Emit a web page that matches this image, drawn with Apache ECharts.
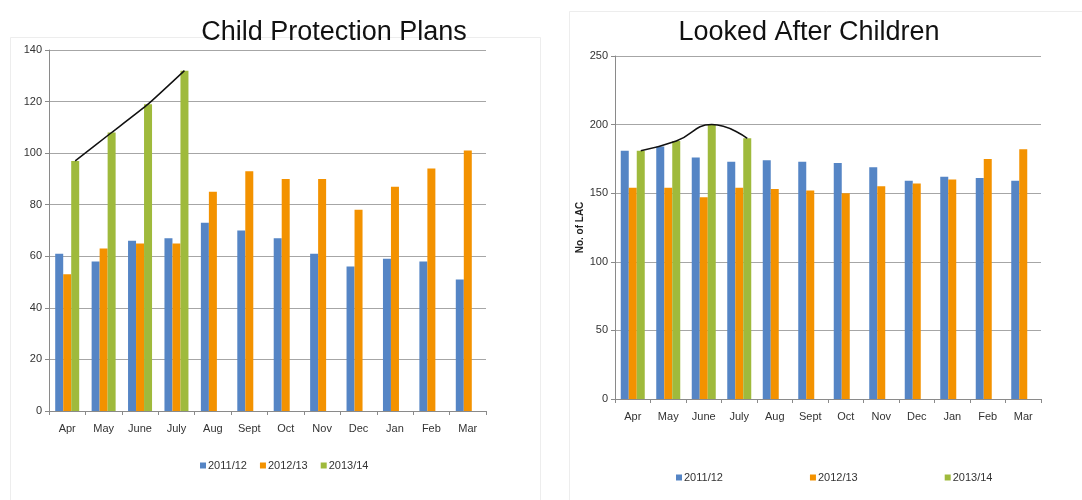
<!DOCTYPE html>
<html><head><meta charset="utf-8">
<script src="https://cdn.jsdelivr.net/npm/echarts@6/dist/echarts.min.js"></script>
<style>html,body{margin:0;padding:0;background:#fff}#c{width:1082px;height:500px}</style>
</head><body><div id="c"></div>
<script>
const months = ['Apr','May','June','July','Aug','Sept','Oct','Nov','Dec','Jan','Feb','Mar'];
const seriesNames = ['2011/12','2012/13','2013/14'];
// Child Protection Plans
const cpp2011 = [61,58,66,67,73,70,67,61,56,59,58,51];
const cpp2012 = [53,63,65,65,85,93,90,90,78,87,94,101];
const cpp2013 = [97,108,119,132,null,null,null,null,null,null,null,null];
// Looked After Children
const lac2011 = [181,184,176,173,174,173,172,169,159,162,161,159];
const lac2012 = [154,154,147,154,153,152,150,155,157,160,175,182];
const lac2013 = [181,188,200,190,null,null,null,null,null,null,null,null];
const cppTicks = [0,20,40,60,80,100,120,140];
const lacTicks = [0,50,100,150,200,250];

const colors = ['#5585C5','#F39200','#9FBA3C'];
const font = '"Liberation Sans",Arial,sans-serif';
const BAR_W = 8;

const grids = [
  {left:49, right:596, top:50, bottom:89},
  {left:615, right:41, top:56, bottom:101}
];
function offsetFrac(g){ const w = 1082 - g.left - g.right; return BAR_W / (w / months.length); }
function trend(vals, g){
  const off = offsetFrac(g);
  return vals.map((v,i)=> v==null ? null : [i+off, v]).filter(p=>p);
}

const catAxis = (gi)=>({
  type:'category', gridIndex:gi, data:months,
  axisLine:{lineStyle:{color:'#8a8a8a'}},
  axisTick:{show:true, length:4, lineStyle:{color:'#8a8a8a'}},
  axisLabel:{color:'#333', fontSize:11, fontFamily:font, margin:12}
});
const valX = (gi)=>({type:'value', gridIndex:gi, min:-0.5, max:11.5, show:false});
const valY = (gi, ticks, extra)=>Object.assign({
  type:'value', gridIndex:gi, min:ticks[0], max:ticks[ticks.length-1], interval:ticks[1]-ticks[0],
  axisLine:{show:true, onZero:false, lineStyle:{color:'#8a8a8a'}},
  axisTick:{show:true, length:4, lineStyle:{color:'#8a8a8a'}},
  axisLabel:{color:'#333', fontSize:11, fontFamily:font, margin:7},
  splitLine:{lineStyle:{color:'#a6a6a6', width:1}}
}, extra||{});

function bar(name, data, xi, yi, ci){
  return {name, type:'bar', xAxisIndex:xi, yAxisIndex:yi, data, barWidth:BAR_W, barGap:'0%',
    itemStyle:{color:colors[ci]}, animation:false};
}

const chart = echarts.init(document.getElementById('c'), null, {renderer:'canvas'});
chart.setOption({
  animation:false,
  backgroundColor:'#fff',
  title:[
    {text:'Child Protection Plans', left:329, top:14, textAlign:'center',
     textStyle:{fontFamily:font, fontSize:27, fontWeight:'normal', color:'#111'}},
    {text:'Looked After Children', left:804, top:14, textAlign:'center',
     textStyle:{fontFamily:font, fontSize:27, fontWeight:'normal', color:'#111'}}
  ],
  graphic:[
    {type:'rect', shape:{x:10.5, y:37.5, width:530, height:470}, style:{fill:'none', stroke:'#ededed', lineWidth:1}, z:-1},
    {type:'rect', shape:{x:569.5, y:11.5, width:520, height:500}, style:{fill:'none', stroke:'#ededed', lineWidth:1}, z:-1}
  ],
  legend:[
    {data:seriesNames, left:195, top:455, itemWidth:6, itemHeight:6, itemGap:13, icon:'rect',
     textStyle:{fontSize:11, fontFamily:font, color:'#333', padding:[0,0,0,-3]}},
    {data:seriesNames, left:671, top:467, itemWidth:6, itemHeight:6, itemGap:87, icon:'rect',
     textStyle:{fontSize:11, fontFamily:font, color:'#333', padding:[0,0,0,-3]}}
  ],
  grid:grids,
  xAxis:[catAxis(0), catAxis(1), valX(0), valX(1)],
  yAxis:[
    valY(0, cppTicks),
    valY(1, lacTicks, {name:'No. of LAC', nameLocation:'middle', nameGap:28,
      nameTextStyle:{fontSize:10, fontWeight:'bold', fontFamily:font, color:'#222'}})
  ],
  series:[
    bar('2011/12', cpp2011, 0, 0, 0),
    bar('2012/13', cpp2012, 0, 0, 1),
    bar('2013/14', cpp2013, 0, 0, 2),
    bar('2011/12', lac2011, 1, 1, 0),
    bar('2012/13', lac2012, 1, 1, 1),
    bar('2013/14', lac2013, 1, 1, 2),
    {type:'line', xAxisIndex:2, yAxisIndex:0, data:trend(cpp2013, grids[0]), smooth:0.15,
     showSymbol:false, lineStyle:{color:'#111', width:1.5}, z:5, silent:true},
    {type:'line', xAxisIndex:3, yAxisIndex:1, data:trend(lac2013, grids[1]), smooth:0.5,
     showSymbol:false, lineStyle:{color:'#111', width:1.5}, z:5, silent:true}
  ]
});
</script></body></html>
